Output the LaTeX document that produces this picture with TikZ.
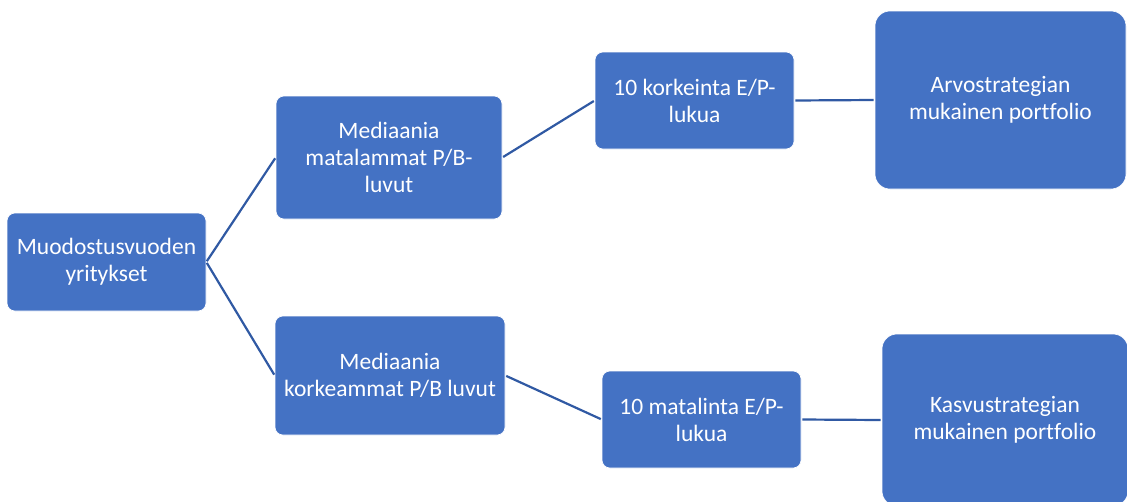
\documentclass[tikz,border=0pt]{standalone}
\usepackage{fontspec}
\setmainfont[Ligatures=NoCommon]{Carlito}
\definecolor{boxfill}{HTML}{4472C4}
\definecolor{linkcol}{HTML}{3059A3}
\begin{document}
\begin{tikzpicture}[x=1pt,y=-1pt,
  box/.style={fill=boxfill,draw=white,line width=0.6pt,rounded corners=8pt,
    text=white,align=center,inner sep=0pt,
    font=\fontsize{23.5}{27}\selectfont},
  bigbox/.style={box,rounded corners=15pt},
  link/.style={draw=linkcol,line width=2.2pt,shorten <=1pt,shorten >=1pt}]
\useasboundingbox (0,0) rectangle (1127,501);
\clip (0,0) rectangle (1127,501);
\node[box,minimum width=199pt,minimum height=98pt] (b1) at (106.5,262) {Muodostusvuoden\\yritykset};
\node[box,minimum width=226pt,minimum height=123pt] (b2) at (389,157.5) {Mediaania\\matalammat P/B-\\luvut};
\node[box,minimum width=230pt,minimum height=119pt] (b3) at (390,375.5) {Mediaania\\korkeammat P/B luvut};
\node[box,minimum width=199pt,minimum height=97pt] (b4) at (694.5,100.5) {10 korkeinta E/P-\\lukua};
\node[box,minimum width=199pt,minimum height=97pt] (b5) at (701.5,419.5) {10 matalinta E/P-\\lukua};
\node[bigbox,minimum width=251pt,minimum height=178pt] (b6) at (1000.5,100) {Arvostrategian\\mukainen portfolio};
\node[bigbox,minimum width=246pt,minimum height=172pt] (b7) at (1005,420) {Kasvustrategian\\mukainen portfolio};
\draw[link] (b1.east) -- (b2.west);
\draw[link] (b1.east) -- (b3.west);
\draw[link] (b2.east) -- (b4.west);
\draw[link] (b3.east) -- (b5.west);
\draw[link] (b4.east) -- (b6.west);
\draw[link] (b5.east) -- (b7.west);
\end{tikzpicture}
\end{document}
